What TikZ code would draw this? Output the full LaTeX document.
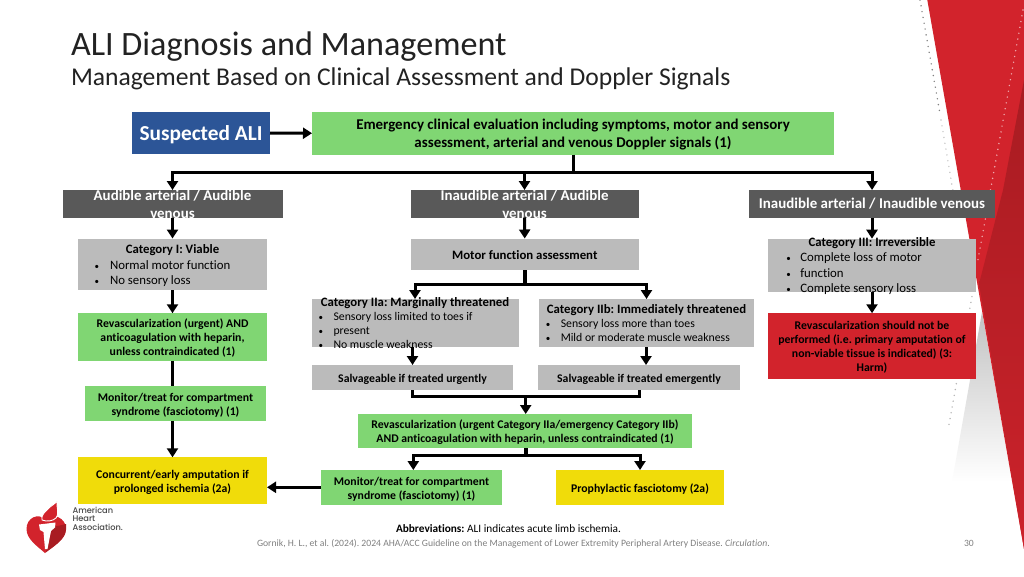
\documentclass[tikz,border=0pt]{standalone}
\usepackage{fontspec}
\setmainfont[Ligatures=NoCommon]{Carlito}
\newfontfamily\logofont{Poppins Medium}
\usetikzlibrary{arrows.meta,calc}
\definecolor{ablue}{HTML}{2C5597}
\definecolor{agreen}{HTML}{80D673}
\definecolor{adark}{HTML}{595959}
\definecolor{agray}{HTML}{BBBBBB}
\definecolor{ayellow}{HTML}{F0DC0A}
\definecolor{ared}{HTML}{D2232C}
\definecolor{adeep}{HTML}{A81C22}
\definecolor{atext}{HTML}{222222}
\frenchspacing
\newcommand{\tx}[3][0pt]{\smash{\raisebox{\dimexpr-0.5em+#1\relax}{#2\begin{tabular}[c]{@{}c@{}}#3\end{tabular}}}}
\newcommand{\bl}[4]{\makebox[#1][l]{\rlap{\hspace*{#2}{\fontsize{9}{9}\selectfont•}}\hspace*{#3}#4}}
\newcommand{\fa}{\fontsize{14.93}{18}\selectfont\bfseries}
\newcommand{\fb}{\fontsize{12.8}{15.4}\selectfont}
\newcommand{\fc}{\fontsize{11.75}{14}\selectfont}
\tikzset{
  x=1pt,y=-1pt,
  bx/.style={inner sep=0pt,outer sep=0pt,text=black},
  conn/.style={line width=3pt,draw=black},
  arr/.style={conn,-{Triangle[width=11pt,length=9pt]}},
  pale/.style={draw=#1,line width=1.6pt,line cap=round,dash pattern=on 0pt off 5.9pt}
}
\begin{document}
\begin{tikzpicture}
\useasboundingbox (0,0) rectangle (1024,576);
\fill[white] (0,0) rectangle (1024,576);
% decorative ribbon
\shade[top color=black!24,bottom color=white]
  (982,312) -- (952,482) -- (1012,482) -- cycle;
\fill[ared] (927.3,0) -- (1024,0) -- (1024,549) -- cycle;
\shade[top color=adeep,bottom color=ared!85!adeep]
  (1024,80) -- (1003,190) -- (979,284) -- (1024,549) -- cycle;
\draw[pale=black!50] (920,0) -- (940,114);
\draw[pale=black!22] (941,120) -- (957,215);
\draw[pale=white!62!ared] (1023,10) -- (977,265);
\draw[pale=black!30] (974,285) -- (948,430);
% titles
\node[bx,anchor=base west,text=atext,font=\fontsize{34.13}{36}\selectfont] (title) at (71,55) {ALI Diagnosis and Management};
\node[bx,anchor=base west,text=atext,font=\fontsize{25.6}{28}\selectfont] (subtitle) at (71,85) {Management Based on Clinical Assessment and Doppler Signals};
% boxes
\node[bx,fill=ablue,minimum width=138pt,minimum height=42pt,text=white] (sus) at (201,133) {\tx[-2.5pt]{\fontsize{21.33}{24}\selectfont\bfseries}{Suspected ALI}};
\node[bx,fill=agreen,minimum width=522pt,minimum height=42.5pt] (emerg) at (573,133.25) {\tx{\fa}{Emergency clinical evaluation including symptoms, motor and sensory\\assessment, arterial and venous Doppler signals (1)}};
\node[bx,fill=adark,minimum width=220pt,minimum height=27.5pt,text=white] (aud) at (172.5,203.75) {\tx[-0.7pt]{\fa}{Audible arterial / Audible\\venous}};
\node[bx,fill=adark,minimum width=228pt,minimum height=27.5pt,text=white] (inaud) at (524.5,203.75) {\tx[-0.7pt]{\fa}{Inaudible arterial / Audible\\venous}};
\node[bx,fill=adark,minimum width=246pt,minimum height=27.5pt,text=white] (inaudb) at (872,203.75) {\tx{\fa}{Inaudible arterial / Inaudible venous}};
\node[bx,fill=agray,minimum width=189pt,minimum height=51.5pt] (cati) at (172.5,264.25) {\tx{\fb}{\textbf{Category I: Viable}\\\bl{189pt}{16.5pt}{32pt}{Normal motor function}\\\bl{189pt}{16.5pt}{32pt}{No sensory loss}}};
\node[bx,fill=agray,minimum width=228.5pt,minimum height=31.5pt] (motor) at (524.75,254.25) {\tx{\fb\bfseries}{Motor function assessment}};
\node[bx,fill=agray,minimum width=207pt,minimum height=48pt] (catiia) at (415,323) {\tx{\fc}{\textbf{\fontsize{12.8}{14}\selectfont Category IIa: Marginally threatened}\\\bl{207pt}{7pt}{22pt}{Sensory loss limited to toes if}\\\bl{207pt}{7pt}{22pt}{present}\\\bl{207pt}{7pt}{22pt}{No muscle weakness}}};
\node[bx,fill=agray,minimum width=215.5pt,minimum height=48pt] (catiib) at (646.5,323) {\tx{\fc}{\textbf{\fontsize{12.8}{14}\selectfont Category IIb: Immediately threatened}\\\bl{215.5pt}{7pt}{22pt}{Sensory loss more than toes}\\\bl{215.5pt}{7pt}{22pt}{Mild or moderate muscle weakness}}};
\node[bx,fill=agray,minimum width=207.5pt,minimum height=53pt] (catiii) at (872,265.2) {\tx[0.7pt]{\fb}{\textbf{Category III: Irreversible}\\\bl{207.5pt}{18pt}{32pt}{Complete loss of motor}\\\bl{207.5pt}{18pt}{32pt}{function}\\\bl{207.5pt}{18pt}{32pt}{Complete sensory loss}}};
\node[bx,fill=ared,minimum width=207.5pt,minimum height=65.5pt] (harm) at (872,346) {\tx{\fc\bfseries}{Revascularization should not be\\performed (i.e. primary amputation of\\non-viable tissue is indicated) (3:\\Harm)}};
\node[bx,fill=agreen,minimum width=189pt,minimum height=47.5pt] (rev) at (172.5,337) {\tx[0.7pt]{\fc\bfseries}{Revascularization (urgent) AND\\anticoagulation with heparin,\\unless contraindicated (1)}};
\node[bx,fill=agreen,minimum width=181pt,minimum height=34.5pt] (monl) at (175.5,403.7) {\tx{\fc\bfseries}{Monitor/treat for compartment\\syndrome (fasciotomy) (1)}};
\node[bx,fill=ayellow,minimum width=189pt,minimum height=47pt] (amp) at (172.5,480.8) {\tx{\fc\bfseries}{Concurrent/early amputation if\\prolonged ischemia (2a)}};
\node[bx,fill=agray,minimum width=201.5pt,minimum height=25pt] (salu) at (412.5,377.5) {\tx{\fc\bfseries}{Salvageable if treated urgently}};
\node[bx,fill=agray,minimum width=201.5pt,minimum height=25pt] (sale) at (639,377.5) {\tx{\fc\bfseries}{Salvageable if treated emergently}};
\node[bx,fill=agreen,minimum width=333.5pt,minimum height=34pt] (revm) at (525,431) {\tx{\fc\bfseries}{Revascularization (urgent Category IIa/emergency Category IIb)\\AND anticoagulation with heparin, unless contraindicated (1)}};
\node[bx,fill=agreen,minimum width=181pt,minimum height=34.5pt] (monm) at (411.5,487.3) {\tx{\fc\bfseries}{Monitor/treat for compartment\\syndrome (fasciotomy) (1)}};
\node[bx,fill=ayellow,minimum width=168pt,minimum height=35pt] (pro) at (640,487.5) {\tx{\fc\bfseries}{Prophylactic fasciotomy (2a)}};
% bus points
\coordinate (b1) at (573.5,172.5);
\coordinate (b2) at (525,284.5);
\coordinate (b3) at (525.7,396.5);
\coordinate (b4) at (526,455.5);
\coordinate (cs) at (412.5,347);
\coordinate (ce) at (646,347);
\coordinate (mi) at (413.3,455.5);
% connectors
\draw[arr] (sus.east) -- (emerg.west);
\draw[conn,line width=3.7pt] (emerg.south -| b1) -- (b1);
\draw[arr] (b1) -| (aud.north);
\draw[arr] (b1) -| (inaud.north);
\draw[arr] (b1) -| (inaudb.north);
\draw[arr] (aud.south) -- (cati.north);
\draw[arr] (cati.south) -- (rev.north);
\draw[conn] (rev.south) -- (rev.south |- monl.north);
\draw[arr] (monl.south -| amp.south) -- (amp.north);
\draw[arr] (inaud.south) -- (motor.north);
\draw[conn,line width=3.7pt] (motor.south -| b2) -- (b2);
\draw[arr] (b2) -| (catiia.north);
\draw[arr] (b2) -| (catiib.north);
\draw[arr] (cs) -- (salu.north -| cs);
\draw[arr] (ce) -- (sale.north -| ce);
\draw[conn] (salu.south) |- (b3);
\draw[conn] (sale.south) |- (b3);
\draw[arr] (b3) -- (revm.north -| b3);
\draw[conn,line width=3.7pt] (revm.south -| b4) -- (b4);
\draw[arr] (b4) -- (mi) -- (monm.north -| mi);
\draw[arr] (b4) -| (pro.north);
\draw[arr] (monm.west) -- (amp.east |- monm.west);
\draw[arr] (inaudb.south) -- (catiii.north);
\draw[arr] (catiii.south) -- (harm.north);
% footer
\node[bx,anchor=base west,font=\fontsize{11.3}{14}\selectfont] (abbr) at (396,532) {\textbf{Abbreviations:} ALI indicates acute limb ischemia.};
\node[bx,anchor=base west,text=black!50,font=\fontsize{9.68}{12}\selectfont] (cite) at (257,546.5) {Gornik, H. L., et al. (2024). 2024 AHA/ACC Guideline on the Management of Lower Extremity Peripheral Artery Disease. \textit{Circulation}.};
\node[bx,anchor=base west,text=black!50,font=\fontsize{9.6}{12}\selectfont] (page) at (964,546.5) {30};
% logo
\fill[ared] (45,553) .. controls (37,546) and (26.5,539) .. (26.5,529) .. controls (26.5,518) and (38,512) .. (46,520) .. controls (53,512) and (66,518) .. (66,529) .. controls (66,539) and (54,546) .. (45,553) -- cycle;
\fill[adeep] (52,527) .. controls (57,526) and (63,525) .. (66,524) .. controls (66.5,528) and (66,531) .. (65,534) .. controls (62,541) and (53,547) .. (46,552) -- cycle;
\filldraw[fill=ared,draw=white,line width=0.9pt] (42,520) .. controls (41,513) and (47,511) .. (50,507) .. controls (52,505) and (55,504) .. (57,501.5) .. controls (56,507) and (60,512) .. (56,518) .. controls (53,521) and (47,522) .. (42,520) -- cycle;
\fill[white] (39,524.5) -- (55.5,522.5) -- (55,527.5) -- (51,531) -- (47.5,549) -- (45,549) -- (43.5,532) -- (40,530) -- cycle;
\node[bx,anchor=base west,text=black!72,font=\logofont\fontsize{8.25}{8.3}\selectfont,align=left] (logo) at (72.5,530) {American\\Heart\\Association.};
\end{tikzpicture}
\end{document}
